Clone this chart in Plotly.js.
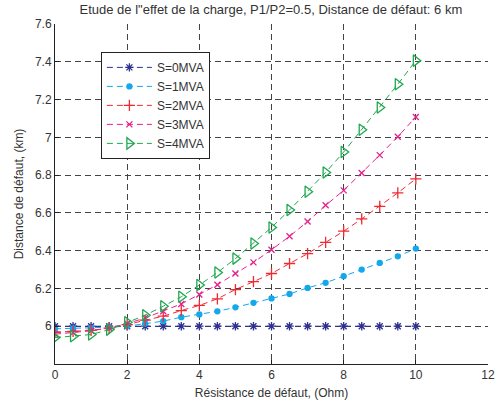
<!DOCTYPE html>
<html><head><meta charset="utf-8">
<script src="https://cdn.plot.ly/plotly-3.0.1.min.js"></script>
<style>html,body{margin:0;padding:0;background:#fff}#plot{width:497px;height:403px}</style>
</head><body><div id="plot"></div><script>
const resistance = [0,0.5,1,1.5,2,2.5,3,3.5,4,4.5,5,5.5,6,6.5,7,7.5,8,8.5,9,9.5,10];
const s0 = [6,6,6,6,6,6,6,6,6,6,6,6,6,6,6,6,6,6,6,6,6];
const s1 = [5.986,5.988,5.990,5.995,6.0,6.014,6.027,6.048,6.062,6.079,6.100,6.124,6.147,6.171,6.203,6.230,6.265,6.300,6.335,6.370,6.411];
const s2 = [5.968,5.972,5.978,5.990,6.008,6.032,6.053,6.083,6.110,6.145,6.194,6.236,6.279,6.332,6.384,6.444,6.503,6.568,6.635,6.706,6.780];
const s3 = [5.958,5.966,5.976,5.990,6.014,6.044,6.079,6.118,6.168,6.220,6.279,6.338,6.405,6.476,6.554,6.640,6.719,6.811,6.906,7.003,7.108];
const s4 = [5.940,5.947,5.956,5.982,6.021,6.058,6.106,6.156,6.218,6.284,6.358,6.438,6.523,6.615,6.712,6.814,6.922,7.040,7.158,7.281,7.406];
const seriesNames = ['S=0MVA','S=1MVA','S=2MVA','S=3MVA','S=4MVA'];
const xTicks = [0,2,4,6,8,10,12];
const yTicks = [6,6.2,6.4,6.6,6.8,7,7.2,7.4,7.6];
const yTickText = ['6','6.2','6.4','6.6','6.8','7','7.2','7.4','7.6'];

const colors = ['#2e3190','#12a8ec','#ee2b33','#e4208c','#1ea84e'];
const symbols = ['asterisk-open','circle','cross-thin-open','x-thin-open','triangle-right-open'];
const sizes = [7,5,8,6,10];
const data = [s0,s1,s2,s3,s4].map((ys,i)=>({
  x: resistance, y: ys, name: seriesNames[i], type:'scatter', mode:'lines+markers',
  line:{color:colors[i], width:1, dash:'6px,4px'},
  marker:{symbol:symbols[i], size:sizes[i], color:colors[i], line:{color:colors[i], width:1.3}}
}));

const layout = {
  width:497, height:403,
  margin:{l:55, r:9, t:24, b:39},
  paper_bgcolor:'#fff', plot_bgcolor:'#fff',
  font:{family:'Liberation Sans, Arial, sans-serif', size:12, color:'#333'},
  title:{text:'Etude de l"effet de la charge, P1/P2=0.5, Distance de défaut: 6 km', x:0.545, xanchor:'center', y:0.988, yanchor:'top', font:{size:13, color:'#333'}},
  xaxis:{range:[0,12], tickvals:xTicks, ticktext:xTicks.map(String), showline:true, linecolor:'#222', linewidth:1,
    ticks:'inside', ticklen:4, tickcolor:'#222', showgrid:true, gridcolor:'#444', griddash:'6px,4px', gridwidth:1, zeroline:false,
    tickfont:{size:12, color:'#333'},
    title:{text:'Résistance de défaut, (Ohm)', standoff:7, font:{size:12, color:'#333'}}},
  yaxis:{range:[5.8,7.6], tickvals:yTicks, ticktext:yTickText, showline:true, linecolor:'#222', linewidth:1,
    ticks:'inside', ticklen:4, tickcolor:'#222', showgrid:true, gridcolor:'#444', griddash:'6px,4px', gridwidth:1, zeroline:false,
    tickfont:{size:12, color:'#333'},
    title:{text:'Distance de défaut, (km)', standoff:8, font:{size:12, color:'#333'}}},
  showlegend:true,
  legend:{x:0.106, y:0.918, xanchor:'left', yanchor:'top', bgcolor:'#fff', bordercolor:'#222', borderwidth:1,
    font:{size:12, color:'#333'}, tracegroupgap:0, itemwidth:45}
};
Plotly.newPlot('plot', data, layout, {staticPlot:true});
</script></body></html>
